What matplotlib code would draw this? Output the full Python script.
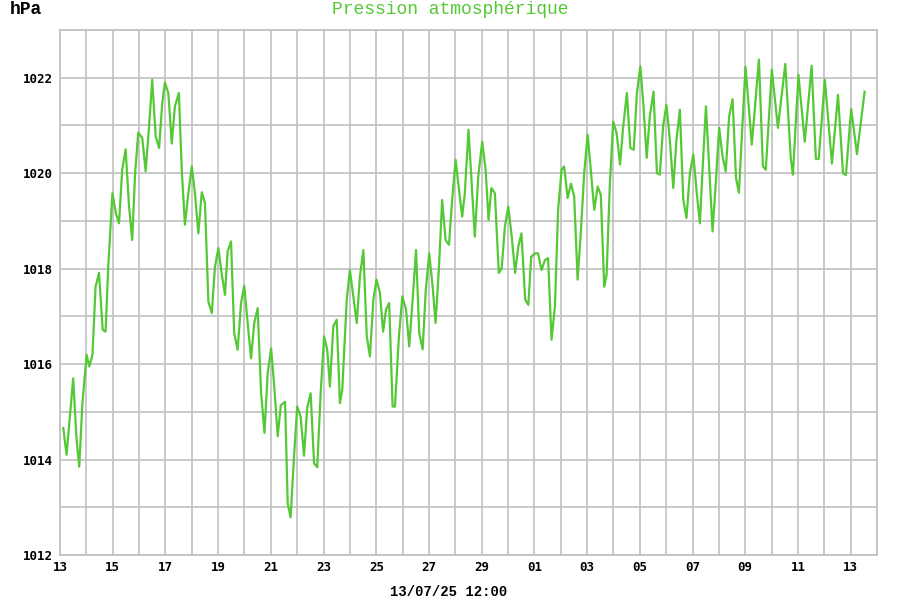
import pandas as pd
import matplotlib
matplotlib.use("Agg")
from matplotlib import pyplot as plt
import matplotlib.dates as mdates
from matplotlib.ticker import MultipleLocator

# readings: days since 2025-06-13 00:00 and pressure in hPa
start_date = "2025-06-13"
day_offsets = [
    0.125, 0.25, 0.50, 0.63, 0.73, 0.85, 1.01, 1.11, 1.23, 1.35, 1.48, 1.62, 1.73, 1.83, 1.99,
    2.12, 2.24, 2.36, 2.49, 2.62, 2.74, 2.85, 2.97, 3.12, 3.25, 3.38, 3.50, 3.63, 3.76, 3.88,
    3.98, 4.11, 4.24, 4.36, 4.51, 4.62, 4.74, 4.87, 5.00, 5.12, 5.25, 5.38, 5.50, 5.63, 5.76,
    5.88, 6.01, 6.13, 6.26, 6.36, 6.49, 6.61, 6.74, 6.87, 6.99, 7.12, 7.25, 7.37, 7.50, 7.63,
    7.76, 7.88, 8.01, 8.13, 8.26, 8.38, 8.54, 8.64, 8.75, 8.88, 9.00, 9.13, 9.26, 9.38, 9.51,
    9.64, 9.76, 9.89, 10.02, 10.14, 10.24, 10.37, 10.50, 10.62, 10.71, 10.88, 11.00, 11.13,
    11.26, 11.38, 11.51, 11.64, 11.76, 11.89, 12.01, 12.14, 12.26, 12.37, 12.49, 12.62, 12.71,
    12.86, 12.99, 13.13, 13.25, 13.38, 13.51, 13.63, 13.76, 13.88, 14.01, 14.14, 14.25, 14.38,
    14.50, 14.63, 14.76, 14.88, 15.01, 15.14, 15.26, 15.36, 15.50, 15.62, 15.74, 15.87, 16.02,
    16.15, 16.26, 16.37, 16.50, 16.65, 16.76, 16.88, 17.01, 17.14, 17.27, 17.39, 17.51, 17.65,
    17.77, 17.88, 18.02, 18.14, 18.27, 18.40, 18.52, 18.65, 18.78, 18.90, 19.03, 19.13, 19.26,
    19.39, 19.51, 19.64, 19.76, 19.89, 20.02, 20.14, 20.27, 20.40, 20.52, 20.65, 20.74, 20.86,
    20.99, 21.12, 21.25, 21.37, 21.51, 21.64, 21.77, 21.89, 22.02, 22.14, 22.26, 22.38, 22.52,
    22.65, 22.76, 22.89, 23.01, 23.14, 23.27, 23.39, 23.52, 23.65, 23.77, 23.90, 24.03, 24.15,
    24.28, 24.40, 24.51, 24.63, 24.76, 24.89, 25.01, 25.14, 25.26, 25.39, 25.52, 25.65, 25.76,
    26.01, 26.25, 26.52, 26.67, 26.78, 27.01, 27.24, 27.52, 27.73, 27.81, 28.02, 28.26, 28.52,
    28.68, 28.79, 29.02, 29.29, 29.52, 29.71, 29.82, 30.02, 30.24, 30.53,
]
pressure_hpa = [
    1014.66, 1014.10, 1015.70, 1014.41, 1013.85, 1015.18, 1016.19, 1015.95, 1016.19, 1017.62,
    1017.91, 1016.72, 1016.68, 1018.04, 1019.58, 1019.16, 1018.95, 1020.07, 1020.50, 1019.30,
    1018.60, 1020.00, 1020.85, 1020.74, 1020.04, 1020.98, 1021.96, 1020.77, 1020.53, 1021.47,
    1021.90, 1021.68, 1020.62, 1021.40, 1021.68, 1020.07, 1018.92, 1019.58, 1020.14, 1019.58,
    1018.74, 1019.60, 1019.37, 1017.31, 1017.07, 1018.04, 1018.43, 1017.91, 1017.45, 1018.36,
    1018.57, 1016.65, 1016.30, 1017.28, 1017.64, 1016.86, 1016.12, 1016.86, 1017.17, 1015.39,
    1014.56, 1015.81, 1016.33, 1015.53, 1014.49, 1015.14, 1015.21, 1013.08, 1012.79, 1014.06,
    1015.11, 1014.90, 1014.08, 1015.08, 1015.39, 1013.92, 1013.84, 1015.39, 1016.58, 1016.30,
    1015.53, 1016.79, 1016.93, 1015.18, 1015.46, 1017.35, 1017.97, 1017.42, 1016.86, 1017.84,
    1018.39, 1016.58, 1016.16, 1017.35, 1017.77, 1017.49, 1016.68, 1017.14, 1017.28, 1015.11,
    1015.11, 1016.58, 1017.42, 1017.14, 1016.37, 1017.35, 1018.39, 1016.65, 1016.31, 1017.56,
    1018.32, 1017.62, 1016.86, 1018.04, 1019.44, 1018.60, 1018.50, 1019.44, 1020.28, 1019.65,
    1019.09, 1019.58, 1020.91, 1019.79, 1018.67, 1019.93, 1020.66, 1020.07, 1019.02, 1019.69,
    1019.58, 1017.91, 1018.01, 1018.88, 1019.30, 1018.67, 1017.91, 1018.46, 1018.74, 1017.35,
    1017.24, 1018.25, 1018.32, 1018.32, 1017.97, 1018.18, 1018.22, 1016.51, 1017.21, 1019.23,
    1020.07, 1020.14, 1019.48, 1019.78, 1019.51, 1017.77, 1018.74, 1020.00, 1020.81, 1020.07,
    1019.23, 1019.72, 1019.55, 1017.62, 1017.87, 1019.72, 1021.08, 1020.84, 1020.18, 1020.98,
    1021.68, 1020.53, 1020.49, 1021.68, 1022.24, 1021.40, 1020.32, 1021.19, 1021.71, 1020.00,
    1019.97, 1021.01, 1021.43, 1020.70, 1019.69, 1020.70, 1021.33, 1019.44, 1019.06, 1020.00,
    1020.39, 1019.65, 1018.95, 1020.28, 1021.40, 1020.14, 1018.78, 1019.86, 1020.95, 1020.35,
    1020.04, 1021.19, 1021.55, 1019.90, 1019.59, 1022.23, 1020.60, 1022.38, 1020.15, 1020.07,
    1022.17, 1020.95, 1022.29, 1020.30, 1019.97, 1022.06, 1020.66, 1022.25, 1020.30, 1020.30,
    1021.96, 1020.20, 1021.64, 1020.00, 1019.96, 1021.34, 1020.40, 1021.71,
]
y_range = (1012, 1023)
x_range = ("2025-06-13", "2025-07-14")
title_text = "Pression atmosphérique"
unit_text = "hPa"
stamp_text = "13/07/25 12:00"

green = "#55c835"
grid_grey = "#c0c0c0"

times = pd.Timestamp(start_date) + pd.to_timedelta(day_offsets, unit="D")

fig = plt.figure(figsize=(9, 6), dpi=100)
ax = fig.add_axes([60 / 900, 45 / 600, 817 / 900, 525 / 600])

ax.plot(times, pressure_hpa, color=green, linewidth=1.6, zorder=3)

ax.set_xlim(pd.Timestamp(x_range[0]), pd.Timestamp(x_range[1]))
ax.set_ylim(*y_range)

ax.xaxis.set_major_locator(mdates.DayLocator(bymonthday=range(1, 32, 2)))
ax.xaxis.set_minor_locator(mdates.DayLocator())
ax.xaxis.set_major_formatter(mdates.DateFormatter("%d"))
ax.yaxis.set_major_locator(MultipleLocator(2))
ax.yaxis.set_minor_locator(MultipleLocator(1))

ax.grid(which="both", color=grid_grey, linewidth=1.2)
ax.set_axisbelow(True)
for spine in ax.spines.values():
    spine.set_color(grid_grey)
    spine.set_linewidth(1.2)

ax.tick_params(which="both", length=0)
ax.tick_params(axis="x", pad=4)
ax.tick_params(axis="y", pad=5)
for lbl in ax.get_xticklabels() + ax.get_yticklabels():
    lbl.set_fontfamily("DejaVu Sans Mono")
    lbl.set_fontweight("bold")
    lbl.set_fontsize(9)

fig.text(10 / 900, 1 - 10 / 600, unit_text, family="Liberation Mono", fontweight="bold",
         fontsize=13, ha="left", va="center")
fig.text(450 / 900, 1 - 10 / 600, title_text, family="Liberation Mono", color=green,
         fontsize=13, ha="center", va="center")
fig.text(449 / 900, 1 - 592 / 600, stamp_text, family="Liberation Mono", fontweight="bold",
         fontsize=10, ha="center", va="center")

fig.savefig("out.png", dpi=100)
